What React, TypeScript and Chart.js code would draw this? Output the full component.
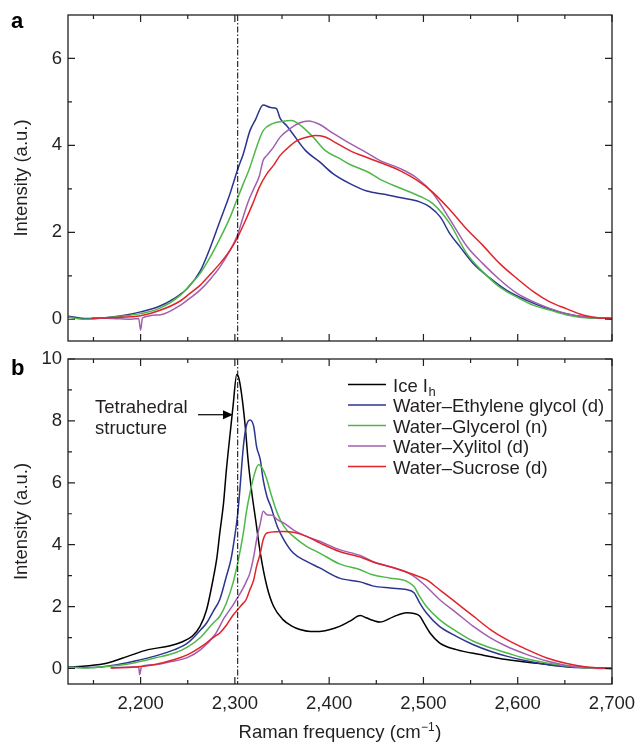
import React, { useEffect, useRef } from "react";
import { Chart, registerables } from "chart.js";

Chart.register(...registerables);

const FONT = '"Liberation Sans", Arial, Helvetica, sans-serif';
const INK = "#231f20";
const FS = 18.5;

// ---- axes ----
const X_MIN = 2123;
const X_MAX = 2700;
const X_MAJOR = [2200, 2300, 2400, 2500, 2600, 2700];
const X_MINOR = [2150, 2250, 2350, 2450, 2550, 2650];
const A_Y_MIN = -0.5;
const A_Y_MAX = 7;
const A_Y_MAJOR = [0, 2, 4, 6];
const A_Y_MINOR = [1, 3, 5];
const B_Y_MIN = -0.5;
const B_Y_MAX = 10;
const B_Y_MAJOR = [0, 2, 4, 6, 8, 10];
const B_Y_MINOR = [1, 3, 5, 7, 9];
const REF_X = 2303;

const LABELS = ["Ice I", "Water–Ethylene glycol (d)", "Water–Glycerol (n)", "Water–Xylitol (d)", "Water–Sucrose (d)"];
const LABEL_SUB = ["h", "", "", "", ""];
const COLORS = ["#000000", "#2b3590", "#4db848", "#a25fb0", "#e0242a"];
const ANNOT_LINES = ["Tetrahedral", "structure"];
const ANNOT_TIP = [2298, 8.2];

// ---- panel a ----
const aEthX = [2123, 2140, 2160, 2180, 2200, 2220, 2235, 2250, 2263, 2273, 2284, 2295, 2303, 2309, 2316, 2322, 2330, 2338, 2344, 2348, 2355, 2362, 2375, 2390, 2404, 2422, 2440, 2460, 2475, 2496, 2507, 2518, 2528, 2539, 2553, 2571, 2588, 2609, 2631, 2659, 2680, 2700];
const aEthY = [0.07, 0.02, 0.03, 0.08, 0.17, 0.3, 0.47, 0.72, 1.1, 1.6, 2.25, 2.9, 3.45, 3.81, 4.34, 4.6, 4.93, 4.87, 4.85, 4.62, 4.45, 4.25, 3.88, 3.62, 3.35, 3.12, 2.95, 2.87, 2.8, 2.7, 2.58, 2.35, 1.97, 1.66, 1.28, 0.94, 0.67, 0.44, 0.25, 0.09, 0.03, 0.02];

const aGlyX = [2123, 2140, 2160, 2180, 2200, 2220, 2242, 2252, 2263, 2273, 2284, 2295, 2302, 2309, 2316, 2323, 2330, 2340, 2350, 2360, 2366, 2372, 2383, 2396, 2411, 2422, 2440, 2454, 2475, 2496, 2510, 2528, 2546, 2563, 2581, 2599, 2617, 2634, 2652, 2675, 2700];
const aGlyY = [0.05, 0.0, 0.03, 0.07, 0.13, 0.25, 0.55, 0.78, 1.05, 1.4, 1.85, 2.35, 2.74, 3.12, 3.5, 3.96, 4.34, 4.5, 4.55, 4.57, 4.52, 4.42, 4.19, 3.88, 3.7, 3.56, 3.4, 3.22, 3.02, 2.83, 2.66, 2.2, 1.51, 1.09, 0.74, 0.51, 0.32, 0.21, 0.1, 0.03, 0.02];

const aXylX = [2148, 2170, 2190, 2198, 2200, 2202, 2220, 2242, 2252, 2263, 2273, 2284, 2295, 2303, 2308, 2314, 2320, 2326, 2330, 2334, 2341, 2348, 2358, 2369, 2378, 2390, 2404, 2420, 2440, 2454, 2475, 2493, 2510, 2528, 2546, 2563, 2581, 2599, 2617, 2634, 2652, 2669, 2700];
const aXylY = [0.03, 0.02, 0.0, 0.02, -0.25, 0.03, 0.1, 0.32, 0.48, 0.67, 0.9, 1.2, 1.59, 1.95, 2.3, 2.7, 3.0, 3.3, 3.66, 3.77, 3.96, 4.19, 4.38, 4.52, 4.56, 4.48, 4.28, 4.07, 3.83, 3.65, 3.47, 3.25, 2.9, 2.3, 1.68, 1.28, 0.91, 0.6, 0.4, 0.25, 0.13, 0.06, 0.02];

const aSucX = [2148, 2170, 2200, 2220, 2242, 2252, 2263, 2273, 2284, 2295, 2303, 2312, 2319, 2326, 2334, 2341, 2348, 2355, 2365, 2375, 2385, 2395, 2404, 2422, 2440, 2461, 2475, 2493, 2510, 2528, 2546, 2563, 2581, 2599, 2617, 2634, 2652, 2669, 2687, 2700];
const aSucY = [0.02, 0.04, 0.08, 0.2, 0.42, 0.59, 0.78, 1.01, 1.28, 1.59, 1.89, 2.31, 2.66, 3.04, 3.35, 3.54, 3.77, 3.92, 4.1, 4.18, 4.23, 4.2, 4.1, 3.88, 3.72, 3.55, 3.42, 3.2, 2.92, 2.52, 2.07, 1.7, 1.28, 0.94, 0.63, 0.4, 0.24, 0.1, 0.03, 0.02];

// ---- panel b ----
const bIceX = [2123, 2145, 2165, 2187, 2208, 2229, 2243, 2255, 2263, 2270, 2277, 2281, 2284, 2288, 2291, 2295, 2298, 2302, 2304, 2307, 2311, 2314, 2318, 2322, 2327, 2334, 2341, 2351, 2360, 2369, 2380, 2390, 2400, 2411, 2422, 2433, 2440, 2447, 2454, 2468, 2482, 2490, 2496, 2500, 2507, 2517, 2535, 2560, 2588, 2623, 2659, 2700];
const bIceY = [0.05, 0.09, 0.18, 0.4, 0.61, 0.72, 0.85, 1.05, 1.36, 1.9, 2.9, 3.6, 4.38, 5.35, 6.42, 7.6, 8.46, 9.5, 9.4, 8.89, 7.82, 6.74, 5.67, 4.81, 3.73, 2.65, 2.01, 1.58, 1.38, 1.26, 1.2, 1.2, 1.25, 1.36, 1.53, 1.71, 1.63, 1.55, 1.5, 1.67, 1.8, 1.78, 1.7, 1.5, 1.15, 0.83, 0.61, 0.45, 0.29, 0.16, 0.05, 0.01];

const bEthX = [2123, 2140, 2158, 2175, 2194, 2215, 2236, 2250, 2264, 2270, 2277, 2284, 2291, 2296, 2300, 2303, 2305, 2309, 2312, 2316, 2320, 2323, 2327, 2330, 2334, 2338, 2345, 2352, 2362, 2376, 2390, 2411, 2433, 2446, 2465, 2482, 2490, 2496, 2503, 2517, 2535, 2553, 2571, 2588, 2610, 2631, 2652, 2680, 2700];
const bEthY = [0.05, 0.03, 0.05, 0.12, 0.24, 0.4, 0.61, 0.83, 1.26, 1.47, 1.85, 2.23, 2.98, 3.55, 4.3, 5.0, 5.67, 7.17, 7.82, 8.03, 7.82, 7.17, 6.74, 6.1, 5.56, 5.24, 4.59, 4.16, 3.73, 3.46, 3.25, 2.92, 2.8, 2.67, 2.6, 2.55, 2.45, 2.12, 1.8, 1.36, 1.04, 0.77, 0.56, 0.4, 0.24, 0.13, 0.05, 0.02, 0.0];

const bGlyX = [2123, 2140, 2158, 2175, 2194, 2215, 2236, 2250, 2264, 2277, 2284, 2291, 2298, 2303, 2309, 2312, 2316, 2320, 2325, 2330, 2334, 2338, 2345, 2352, 2362, 2376, 2390, 2411, 2433, 2446, 2465, 2482, 2490, 2496, 2503, 2517, 2535, 2553, 2571, 2588, 2610, 2631, 2652, 2673, 2700];
const bGlyY = [0.05, 0.02, 0.05, 0.1, 0.19, 0.34, 0.5, 0.7, 1.02, 1.47, 1.69, 2.12, 2.76, 3.41, 4.38, 5.02, 5.67, 6.2, 6.58, 6.42, 6.1, 5.67, 5.02, 4.59, 4.27, 3.95, 3.73, 3.38, 3.19, 3.03, 2.92, 2.82, 2.65, 2.33, 2.01, 1.58, 1.2, 0.88, 0.67, 0.51, 0.31, 0.18, 0.08, 0.02, 0.0];

const bXylX = [2169, 2190, 2198, 2199, 2201, 2215, 2229, 2250, 2264, 2279, 2289, 2298, 2303, 2307, 2312, 2316, 2320, 2323, 2327, 2330, 2334, 2340, 2345, 2352, 2362, 2376, 2390, 2411, 2433, 2446, 2475, 2490, 2503, 2517, 2535, 2553, 2571, 2588, 2610, 2631, 2652, 2673, 2700];
const bXylY = [0.02, 0.05, 0.05, -0.2, 0.06, 0.12, 0.2, 0.36, 0.62, 1.1, 1.65, 2.05, 2.3, 2.5, 2.8, 3.09, 3.62, 4.16, 4.7, 5.08, 4.97, 4.95, 4.81, 4.7, 4.48, 4.27, 4.11, 3.84, 3.65, 3.46, 3.19, 2.98, 2.65, 2.23, 1.8, 1.36, 0.99, 0.72, 0.45, 0.24, 0.1, 0.03, 0.0];

const bSucX = [2168, 2194, 2215, 2236, 2250, 2264, 2277, 2284, 2291, 2298, 2303, 2307, 2312, 2316, 2320, 2323, 2327, 2330, 2334, 2345, 2352, 2362, 2376, 2390, 2411, 2433, 2446, 2475, 2490, 2503, 2517, 2535, 2553, 2571, 2588, 2610, 2631, 2652, 2673, 2700];
const bSucY = [0.02, 0.05, 0.13, 0.29, 0.45, 0.7, 1.0, 1.15, 1.4, 1.72, 1.9, 2.05, 2.23, 2.55, 2.87, 3.3, 3.73, 4.16, 4.38, 4.42, 4.43, 4.4, 4.27, 4.06, 3.78, 3.6, 3.45, 3.19, 3.03, 2.87, 2.55, 2.12, 1.69, 1.26, 0.94, 0.61, 0.34, 0.16, 0.05, 0.0];

function lineSet(idx: number, xs: number[], ys: number[]) {
  return {
    label: LABELS[idx],
    data: xs.map((x, i) => ({ x, y: ys[i] })),
    borderColor: COLORS[idx],
    backgroundColor: COLORS[idx],
    borderWidth: 1.5,
    pointRadius: 0,
    pointHoverRadius: 0,
    fill: false,
    cubicInterpolationMode: "monotone",
    order: 10 - idx,
  };
}

function makeOptions(yMin: number, yMax: number, yMajor: number[], showX: boolean, padding: any) {
  return {
    responsive: false,
    animation: false,
    devicePixelRatio: 1,
    events: [],
    layout: { padding },
    plugins: { legend: { display: false }, tooltip: { enabled: false } },
    scales: {
      x: {
        type: "linear",
        min: X_MIN,
        max: X_MAX,
        display: showX,
        grid: { display: false, drawTicks: false },
        border: { display: false },
        afterBuildTicks: (s: any) => {
          s.ticks = X_MAJOR.map((v) => ({ value: v }));
        },
        ticks: {
          autoSkip: false,
          maxRotation: 0,
          padding: 9,
          color: INK,
          font: { family: FONT, size: FS },
          callback: (v: any) => Number(v).toLocaleString("en-US"),
        },
        afterFit: (s: any) => {
          s.height = showX ? 60 : 0;
          s.paddingLeft = 0;
          s.paddingRight = 0;
        },
      },
      y: {
        type: "linear",
        min: yMin,
        max: yMax,
        grid: { display: false, drawTicks: false },
        border: { display: false },
        afterBuildTicks: (s: any) => {
          s.ticks = yMajor.map((v) => ({ value: v }));
        },
        ticks: { padding: 6, color: INK, font: { family: FONT, size: FS } },
        title: {
          display: true,
          text: "Intensity (a.u.)",
          color: INK,
          font: { family: FONT, size: FS },
          padding: { top: 10.5, bottom: 0 },
        },
        afterFit: (s: any) => {
          s.width = 68;
          s.paddingTop = 0;
          s.paddingBottom = 0;
        },
      },
    },
  };
}

function decorPlugin(panel: string, labelBaseline: number, yMinor: number[], extra?: (chart: any) => void) {
  return {
    id: "decor_" + panel,
    afterDatasetsDraw(chart: any) {
      const { ctx, chartArea: ca } = chart;
      const xs = chart.scales.x;
      const ys = chart.scales.y;
      ctx.save();
      // dash-dot reference line
      const rx = xs.getPixelForValue(REF_X);
      ctx.beginPath();
      ctx.setLineDash([6, 2, 1.5, 2]);
      ctx.strokeStyle = "#000";
      ctx.lineWidth = 1;
      ctx.moveTo(rx, ca.top);
      ctx.lineTo(rx, ca.bottom);
      ctx.stroke();
      ctx.setLineDash([]);
      // frame
      ctx.strokeStyle = INK;
      ctx.lineWidth = 1.3;
      ctx.strokeRect(ca.left, ca.top, ca.right - ca.left, ca.bottom - ca.top);
      // inward ticks on all four sides
      ctx.lineWidth = 1.2;
      ctx.beginPath();
      const xt = (vals: number[], len: number) =>
        vals.forEach((v) => {
          const p = xs.getPixelForValue(v);
          ctx.moveTo(p, ca.bottom);
          ctx.lineTo(p, ca.bottom - len);
          ctx.moveTo(p, ca.top);
          ctx.lineTo(p, ca.top + len);
        });
      const yt = (vals: number[], len: number) =>
        vals.forEach((v) => {
          const p = ys.getPixelForValue(v);
          ctx.moveTo(ca.left, p);
          ctx.lineTo(ca.left + len, p);
          ctx.moveTo(ca.right, p);
          ctx.lineTo(ca.right - len, p);
        });
      xt(X_MAJOR, 7);
      xt(X_MINOR, 4);
      yt(ys.ticks.map((t: any) => t.value), 7);
      yt(yMinor, 4);
      ctx.stroke();
      // panel letter
      ctx.fillStyle = "#000";
      ctx.font = `bold 22px ${FONT}`;
      ctx.textAlign = "left";
      ctx.textBaseline = "alphabetic";
      ctx.fillText(panel, 11, labelBaseline);
      if (extra) extra(chart);
      ctx.restore();
    },
  };
}

function drawPanelBExtras(chart: any) {
  const { ctx, chartArea: ca } = chart;
  const xs = chart.scales.x;
  const ys = chart.scales.y;
  ctx.fillStyle = INK;
  ctx.textAlign = "left";
  ctx.textBaseline = "alphabetic";
  // legend
  const lx0 = ca.right - 264;
  const lx1 = ca.right - 226;
  const tx = ca.right - 219;
  LABELS.forEach((lab, i) => {
    const base = ca.top + 32.5 + 20.5 * i;
    ctx.beginPath();
    ctx.strokeStyle = COLORS[i];
    ctx.lineWidth = 1.4;
    ctx.moveTo(lx0, base - 7);
    ctx.lineTo(lx1, base - 7);
    ctx.stroke();
    ctx.font = `${FS}px ${FONT}`;
    ctx.fillStyle = INK;
    ctx.fillText(lab, tx, base);
    if (LABEL_SUB[i]) {
      const w = ctx.measureText(lab).width;
      ctx.font = `13px ${FONT}`;
      ctx.fillText(LABEL_SUB[i], tx + w + 0.5, base + 4.5);
    }
  });
  // annotation with arrow
  const tipX = xs.getPixelForValue(ANNOT_TIP[0]);
  const tipY = ys.getPixelForValue(ANNOT_TIP[1]);
  ctx.strokeStyle = "#000";
  ctx.fillStyle = "#000";
  ctx.lineWidth = 1.2;
  ctx.beginPath();
  ctx.moveTo(tipX - 35, tipY);
  ctx.lineTo(tipX - 8, tipY);
  ctx.stroke();
  ctx.beginPath();
  ctx.moveTo(tipX, tipY);
  ctx.lineTo(tipX - 10, tipY - 4.5);
  ctx.lineTo(tipX - 10, tipY + 4.5);
  ctx.closePath();
  ctx.fill();
  ctx.font = `${FS}px ${FONT}`;
  ctx.fillStyle = INK;
  ctx.fillText(ANNOT_LINES[0], tipX - 138, tipY - 2);
  ctx.fillText(ANNOT_LINES[1], tipX - 138, tipY + 19);
  // x-axis title with superscript
  const main = "Raman frequency (cm";
  const sup = "\u22121";
  const close = ")";
  ctx.font = `${FS}px ${FONT}`;
  const w1 = ctx.measureText(main).width;
  const w3 = ctx.measureText(close).width;
  ctx.font = `12px ${FONT}`;
  const w2 = ctx.measureText(sup).width;
  const total = w1 + w2 + w3 + 1;
  const cx = (ca.left + ca.right) / 2;
  const bx = cx - total / 2;
  const by = ca.bottom + 54;
  ctx.font = `${FS}px ${FONT}`;
  ctx.fillText(main, bx, by);
  ctx.font = `12px ${FONT}`;
  ctx.fillText(sup, bx + w1 + 0.5, by - 7);
  ctx.font = `${FS}px ${FONT}`;
  ctx.fillText(close, bx + w1 + w2 + 1, by);
}

export default function App() {
  const refA = useRef<HTMLCanvasElement | null>(null);
  const refB = useRef<HTMLCanvasElement | null>(null);

  useEffect(() => {
    const chartA = new Chart(refA.current as HTMLCanvasElement, {
      type: "line",
      data: {
        datasets: [
          lineSet(1, aEthX, aEthY),
          lineSet(2, aGlyX, aGlyY),
          lineSet(3, aXylX, aXylY),
          lineSet(4, aSucX, aSucY),
        ],
      },
      options: makeOptions(A_Y_MIN, A_Y_MAX, A_Y_MAJOR, false, { left: 0, top: 15, right: 26, bottom: 9 }) as any,
      plugins: [decorPlugin("a", 28, A_Y_MINOR)],
    } as any);
    const chartB = new Chart(refB.current as HTMLCanvasElement, {
      type: "line",
      data: {
        datasets: [
          lineSet(0, bIceX, bIceY),
          lineSet(1, bEthX, bEthY),
          lineSet(2, bGlyX, bGlyY),
          lineSet(3, bXylX, bXylY),
          lineSet(4, bSucX, bSucY),
        ],
      },
      options: makeOptions(B_Y_MIN, B_Y_MAX, B_Y_MAJOR, true, { left: 0, top: 14, right: 26, bottom: 0 }) as any,
      plugins: [decorPlugin("b", 30, B_Y_MINOR, drawPanelBExtras)],
    } as any);
    return () => {
      chartA.destroy();
      chartB.destroy();
    };
  }, []);

  return (
    <div style={{ position: "absolute", left: 0, top: 0, width: 638, height: 744, background: "#fff", overflow: "hidden" }}>
      <canvas ref={refA} width={638} height={350} style={{ position: "absolute", left: 0, top: 0, width: 638, height: 350 }} />
      <canvas ref={refB} width={638} height={399} style={{ position: "absolute", left: 0, top: 345, width: 638, height: 399 }} />
    </div>
  );
}
